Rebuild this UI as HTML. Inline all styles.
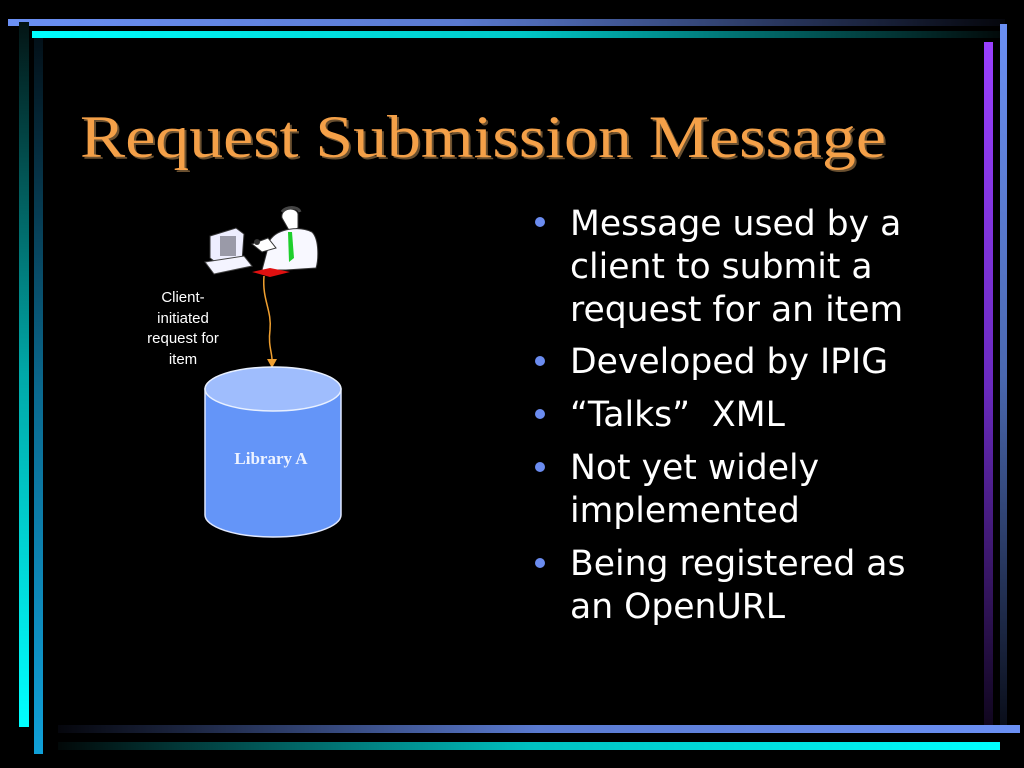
<!DOCTYPE html>
<html><head><meta charset="utf-8"><style>
html,body{margin:0;padding:0;background:#000;}
svg{display:block;}
</style></head><body>
<svg width="1024" height="768" viewBox="0 0 1024 768" xmlns="http://www.w3.org/2000/svg">
<defs>
<linearGradient id="tb" x1="0" x2="1" y1="0" y2="0"><stop offset="0" stop-color="#6b90f4"/><stop offset="0.45" stop-color="#5a7ad0"/><stop offset="1" stop-color="#05060c"/></linearGradient>
<linearGradient id="tc" x1="0" x2="1" y1="0" y2="0"><stop offset="0" stop-color="#00ffff"/><stop offset="0.5" stop-color="#00c8c8"/><stop offset="1" stop-color="#020808"/></linearGradient>
<linearGradient id="bb" x1="0" x2="1" y1="0" y2="0"><stop offset="0" stop-color="#05060c"/><stop offset="0.5" stop-color="#5a7ad0"/><stop offset="1" stop-color="#6b90f4"/></linearGradient>
<linearGradient id="bc" x1="0" x2="1" y1="0" y2="0"><stop offset="0" stop-color="#020808"/><stop offset="0.5" stop-color="#00c0c0"/><stop offset="1" stop-color="#00ffff"/></linearGradient>
<linearGradient id="l1" x1="0" x2="0" y1="0" y2="1"><stop offset="0" stop-color="#031414"/><stop offset="0.5" stop-color="#00a8a8"/><stop offset="1" stop-color="#00ffff"/></linearGradient>
<linearGradient id="l2" x1="0" x2="0" y1="0" y2="1"><stop offset="0" stop-color="#031018"/><stop offset="0.5" stop-color="#0a6a90"/><stop offset="1" stop-color="#10a0d8"/></linearGradient>
<linearGradient id="r1" x1="0" x2="0" y1="0" y2="1"><stop offset="0" stop-color="#9a40ff"/><stop offset="0.5" stop-color="#6a2ac0"/><stop offset="1" stop-color="#10061e"/></linearGradient>
<linearGradient id="r2" x1="0" x2="0" y1="0" y2="1"><stop offset="0" stop-color="#6b90f4"/><stop offset="0.5" stop-color="#4a68b0"/><stop offset="1" stop-color="#0a0e1a"/></linearGradient>
</defs>
<rect width="1024" height="768" fill="#000"/>
<rect x="8" y="19" width="997" height="7" fill="url(#tb)"/>
<rect x="32" y="31" width="973" height="7" fill="url(#tc)"/>
<rect x="19" y="22" width="10" height="705" fill="url(#l1)"/>
<rect x="34" y="38" width="9" height="716" fill="url(#l2)"/>
<rect x="984" y="42" width="9" height="683" fill="url(#r1)"/>
<rect x="1000" y="24" width="7" height="701" fill="url(#r2)"/>
<rect x="58" y="725" width="962" height="8" fill="url(#bb)"/>
<rect x="58" y="742" width="942" height="8" fill="url(#bc)"/>
<text x="82" y="159" textLength="806" lengthAdjust="spacingAndGlyphs" font-family="Liberation Serif, serif" font-size="60" fill="#6a5030">Request Submission Message</text>
<text x="80" y="157" textLength="806" lengthAdjust="spacingAndGlyphs" font-family="Liberation Serif, serif" font-size="60" fill="#f4a048">Request Submission Message</text>
<g fill="#6b8cf0">
<circle cx="540" cy="222" r="5"/><circle cx="540" cy="361" r="5"/><circle cx="540" cy="414" r="5"/><circle cx="540" cy="467" r="5"/><circle cx="540" cy="563" r="5"/>
</g>
<g font-family="DejaVu Sans, Verdana, sans-serif" font-size="34.6" fill="#fff">
<text x="570" y="235">Message used by a</text>
<text x="570" y="278">client to submit a</text>
<text x="570" y="321">request for an item</text>
<text x="570" y="373">Developed by IPIG</text>
<text x="570" y="426" xml:space="preserve">“Talks”  XML</text>
<text x="570" y="479">Not yet widely</text>
<text x="570" y="522">implemented</text>
<text x="570" y="575">Being registered as</text>
<text x="570" y="618">an OpenURL</text>
</g>
<g font-family="Liberation Sans, Arial, sans-serif" font-size="15" fill="#fff" text-anchor="middle">
<text x="183" y="302">Client-</text>
<text x="183" y="323">initiated</text>
<text x="183" y="343">request for</text>
<text x="183" y="364">item</text>
</g>
<path d="M264 276 C262 300 272 310 270 330 C268 345 272 352 272 360" stroke="#f0a030" stroke-width="1.5" fill="none"/>
<polygon points="267,359 277,359 272,368" fill="#f0a030"/>
<path d="M205 389 L205 515 A68 22 0 0 0 341 515 L341 389 Z" fill="#6495f8" stroke="#e0e8ff" stroke-width="1.5"/>
<ellipse cx="273" cy="389" rx="68" ry="22" fill="#9fbdfd" stroke="#e8f0ff" stroke-width="1.5"/>
<text x="271" y="464" text-anchor="middle" font-family="Liberation Serif, serif" font-weight="bold" font-size="17" fill="#eef3ff">Library A</text>
<polygon points="210,236 236,228 244,234 242,262 218,264 210,258" fill="#eef" stroke="#333" stroke-width="1"/>
<rect x="220" y="236" width="16" height="20" fill="#9a9aa8"/>
<polygon points="205,262 244,256 252,266 214,274" fill="#f4f4ff" stroke="#444" stroke-width="1"/>
<path d="M282 218 C280 208 296 206 298 214 L298 228 L290 232 Z" fill="#fff" stroke="#333"/>
<path d="M282 212 C286 206 298 206 300 212" stroke="#444" stroke-width="3" fill="none"/>
<path d="M270 240 C278 228 300 226 312 232 C320 240 318 262 316 268 L286 270 L262 270 Z" fill="#f8f8ff" stroke="#333"/>
<polygon points="288,232 292,232 294,258 289,262" fill="#1ecf2c"/>
<path d="M252 244 L268 238 L276 248 L262 252 Z" fill="#fff" stroke="#333"/>
<circle cx="257" cy="242" r="3" fill="#333"/>
<polygon points="252,272 270,268 290,272 270,277" fill="#e01010"/>
</svg>
</body></html>
